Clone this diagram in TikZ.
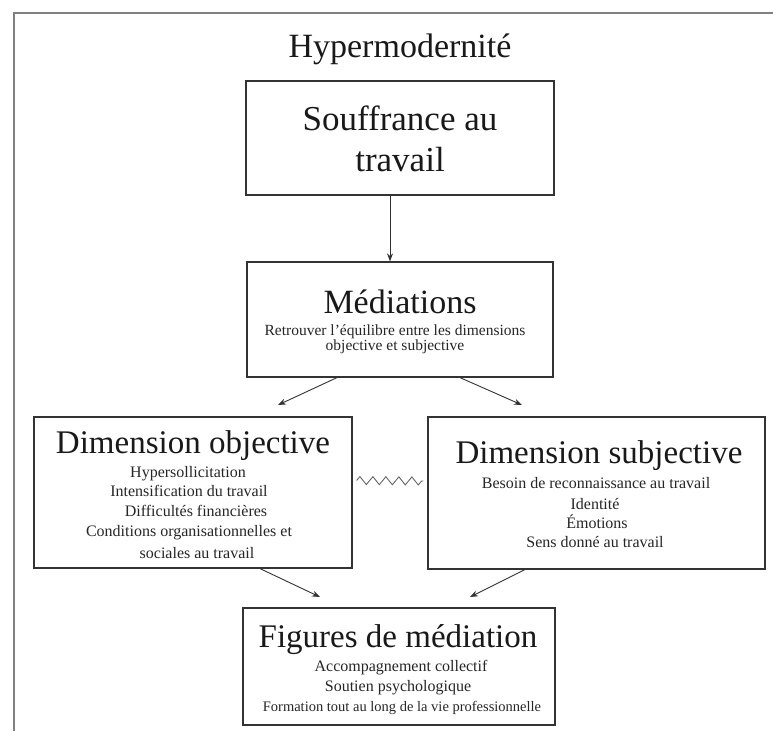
\documentclass[tikz,border=0pt]{standalone}
\usepackage{fontspec}
\setmainfont{Liberation Serif}
\usetikzlibrary{arrows.meta,decorations.pathmorphing,calc}
\newcommand\headfont{\fontsize{33}{38}\selectfont}
\newcommand\itemfont{\fontsize{16}{20}\selectfont}
\newcommand\subfont{\fontsize{15.5}{16}\selectfont}
\tikzset{
  box/.style={draw=black!80, line width=1.2pt, rectangle, inner sep=0pt},
  head/.style={anchor=base, inner sep=0pt, font=\headfont, text=black!90},
  itm/.style={anchor=base, inner sep=0pt, font=\itemfont, text=black!85},
  sub/.style={anchor=base, inner sep=0pt, font=\subfont, text=black!85},
  arr/.style={draw=black!80, line width=0.9pt, -{Stealth[length=8pt,width=6pt]}},
  zig/.style={draw=black!60, line width=0.9pt, decorate, decoration={zigzag, segment length=13pt, amplitude=4pt}}
}
\begin{document}
\begin{tikzpicture}[x=1pt,y=-1pt]
\useasboundingbox (0,0) rectangle (773,731);
\fill[white] (0,0) rectangle (773,731);
% outer frame (left and top visible)
\draw[black!50, line width=2pt] (14,731) -- (14,13) -- (773,13);
\node[head, font=\fontsize{34}{38}\selectfont] (title) at (400,57) {Hypermodernité};

% boxes
\node[box, minimum width=308pt, minimum height=114pt] (souf) at (400,138) {};
\node[box, minimum width=306pt, minimum height=115pt] (med) at (400,319.5) {};
\node[box, minimum width=318pt, minimum height=151pt] (obj) at (193,492.5) {};
\node[box, minimum width=337pt, minimum height=152pt] (subj) at (596.5,493) {};
\node[box, minimum width=312pt, minimum height=117pt] (fig) at (399,666.5) {};

% texts
\node[head, font=\fontsize{35}{40}\selectfont] (souf1) at (400,130) {Souffrance au};
\node[head, font=\fontsize{35}{40}\selectfont] (souf2) at (400,171) {travail};

\node[head, font=\fontsize{34}{38}\selectfont] (medh) at (400,313) {Médiations};
\node[sub] (med1) at (395,335) {Retrouver l'équilibre entre les dimensions};
\node[sub] (med2) at (395,350) {objective et subjective};

\node[head] (objh) at (193,453) {Dimension objective};
\node[itm] (obj1) at (188,477) {Hypersollicitation};
\node[itm] (obj2) at (189,496) {Intensification du travail};
\node[itm] (obj3) at (196,516) {Difficultés financières};
\node[itm] (obj4) at (189,536) {Conditions organisationnelles et};
\node[itm] (obj5) at (197,558) {sociales au travail};

\node[head] (subjh) at (599,463) {Dimension subjective};
\node[itm] (subj1) at (596,488) {Besoin de reconnaissance au travail};
\node[itm] (subj2) at (595,509) {Identité};
\node[itm] (subj3) at (597,528) {Émotions};
\node[itm] (subj4) at (595,547) {Sens donné au travail};

\node[head] (figh) at (398,647) {Figures de médiation};
\node[itm] (fig1) at (401,671) {Accompagnement collectif};
\node[itm] (fig2) at (398,691) {Soutien psychologique};
\node[itm, font=\fontsize{14.5}{18}\selectfont] (fig3) at (402,711) {Formation tout au long de la vie professionnelle};

% arrow end points
\coordinate (e1) at (278,405);
\coordinate (e2) at (522,405);
\coordinate (e3) at (320,597);
\coordinate (e4) at (470,597);

% connectors
\draw[arr] ([xshift=-10pt]souf.south) -- ([xshift=-10pt]med.north);
\draw[arr] ([xshift=-63pt]med.south) -- (e1);
\draw[arr] ([xshift=60pt]med.south) -- (e2);
\draw[arr] ([xshift=67pt]obj.south) -- (e3);
\draw[arr] ([xshift=-71.5pt]subj.south) -- (e4);
\draw[zig] ($(obj.east)+(4,-12)$) -- ($(subj.west)+(-4,-12)$);
\end{tikzpicture}
\end{document}
